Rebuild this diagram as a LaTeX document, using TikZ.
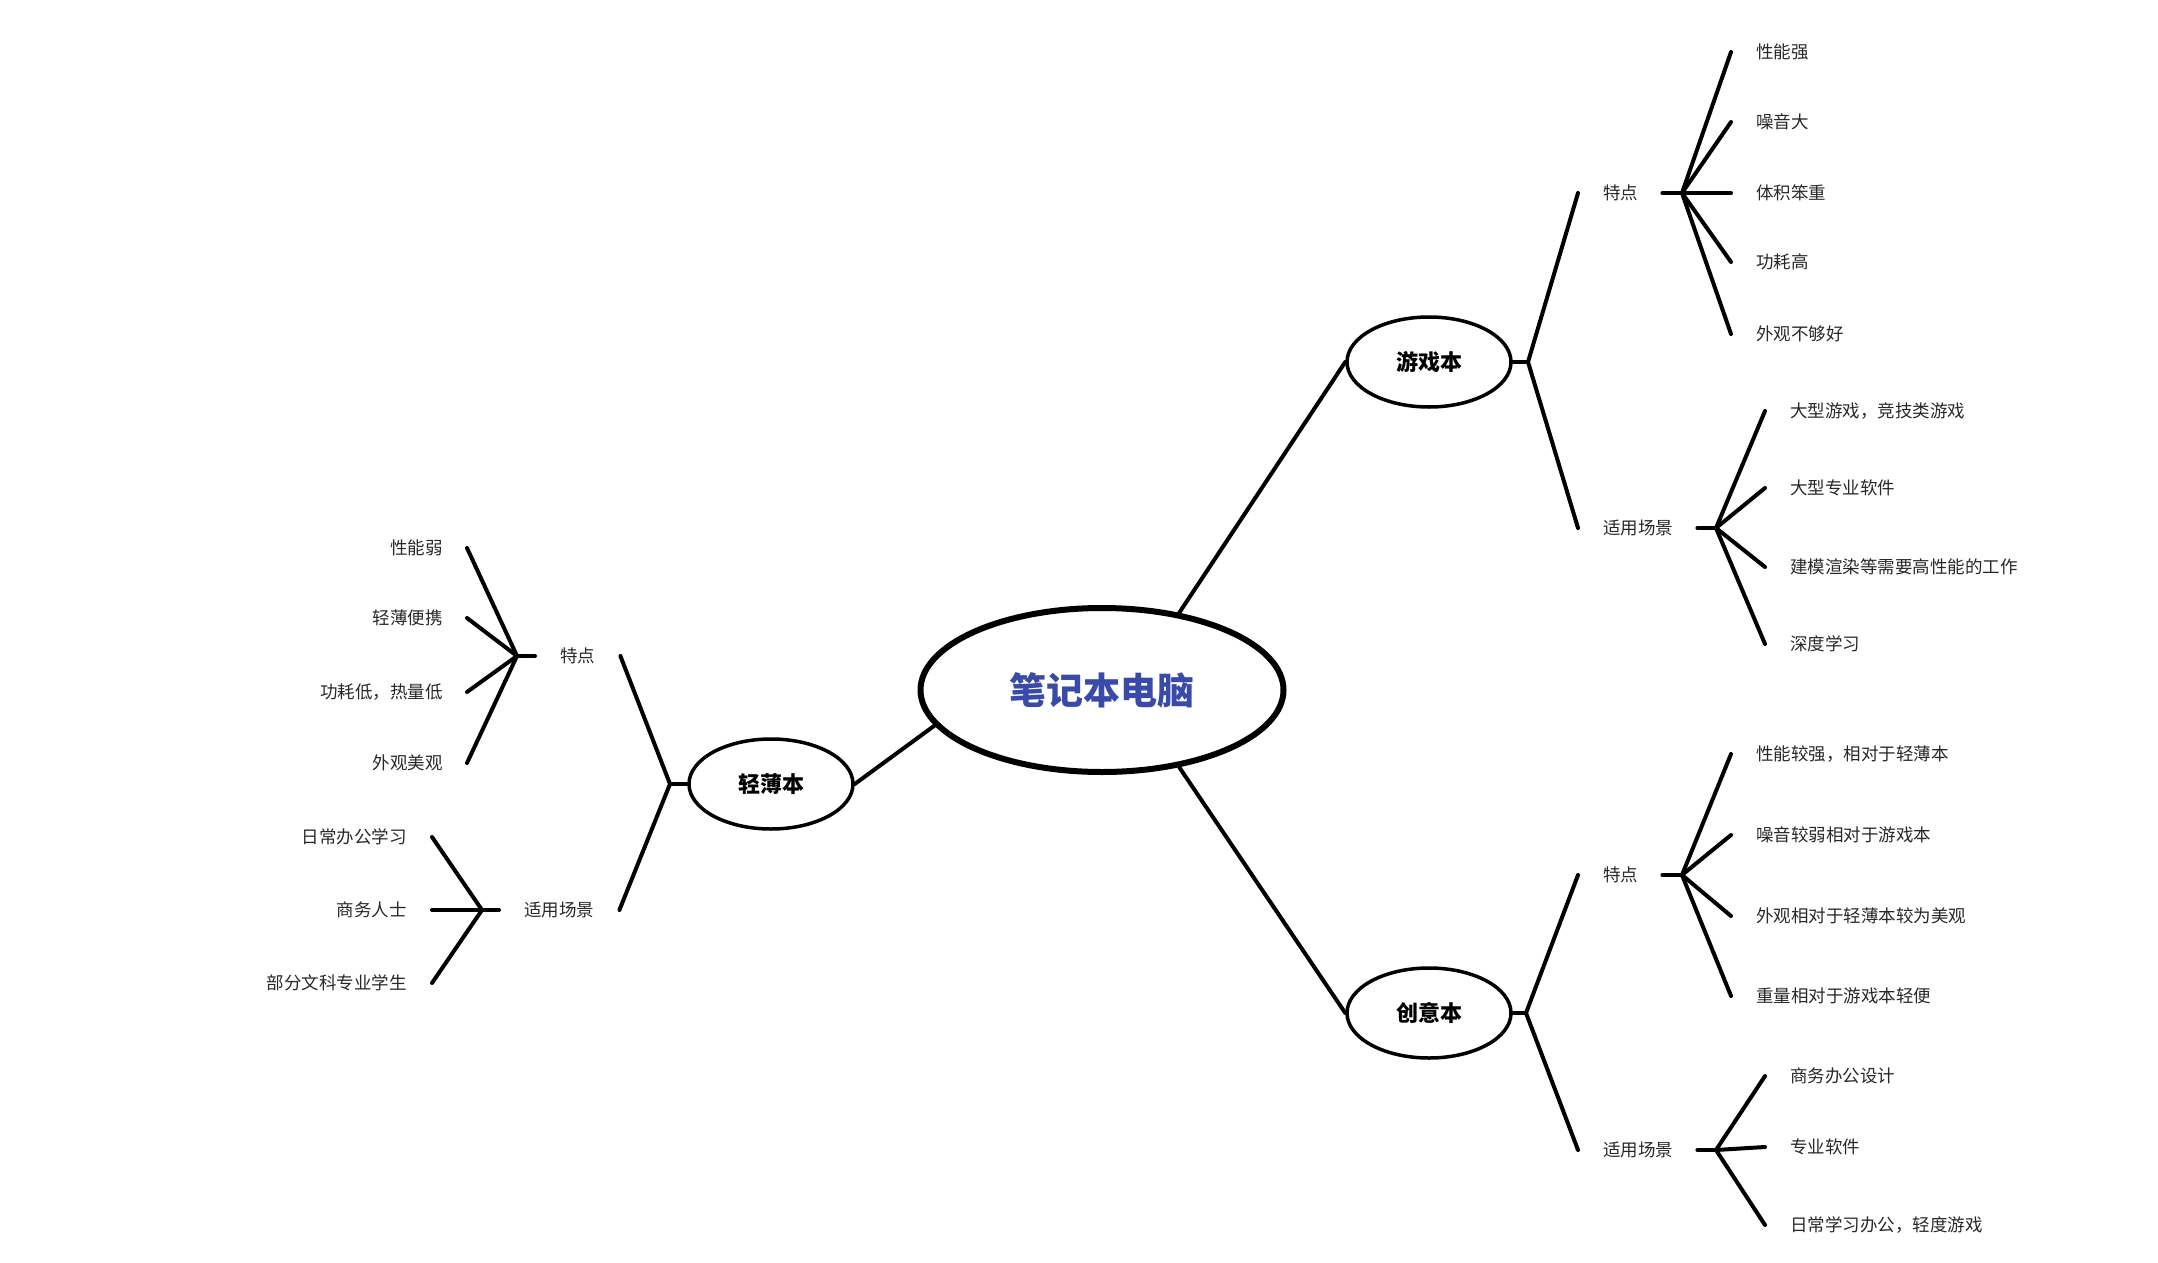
\documentclass[tikz,border=0pt]{standalone}
\usepackage{fontspec}
\setmainfont{Noto Sans CJK SC}
\usetikzlibrary{shapes.geometric}
\definecolor{rootblue}{RGB}{58,74,168}
\definecolor{leafgray}{RGB}{40,40,40}

\begin{document}
\begin{tikzpicture}[x=1pt,y=-1pt,
  root/.style={ellipse,draw,line width=6pt,minimum width=363pt,minimum height=164pt,inner sep=0pt,font=\fontsize{37}{44}\selectfont\bfseries,text=rootblue},
  branch/.style={ellipse,draw,line width=3.5pt,minimum width=164pt,minimum height=90pt,inner sep=0pt,font=\fontsize{22}{26}\selectfont\bfseries},
  leaf/.style={inner sep=0pt,font=\fontsize{17.5}{21}\selectfont,text=leafgray},
  edge/.style={line width=4pt,line cap=round}]
  \useasboundingbox (0,0) rectangle (2158,1263);

  % Root and branches
  \node[root] (pc) at (1102,690) {笔记本电脑};
  \node[branch] (game) at (1429,362) {游戏本};
  \node[branch] (create) at (1429,1013) {创意本};
  \node[branch] (thin) at (771,784) {轻薄本};

  \draw[edge] (pc.45) -- (game.west);
  \draw[edge] (pc.-45) -- (create.west);
  \draw[edge] (pc.192) -- (thin.east);

  % Junctions
  \coordinate (gameJ) at (1528,362);
  \coordinate (createJ) at (1526,1013);
  \coordinate (thinJ) at (670,784);
  \coordinate (gameFJ) at (1682,193);
  \coordinate (gameUJ) at (1716,528);
  \coordinate (createFJ) at (1682,875);
  \coordinate (createUJ) at (1716,1150);
  \coordinate (thinFJ) at (517,656);
  \coordinate (thinUJ) at (482,910);

  % Groups
  \node[leaf,anchor=west] (gameF) at (1603,193) {特点};
  \node[leaf,anchor=west] (gameU) at (1603,528) {适用场景};
  \node[leaf,anchor=west] (createF) at (1603,875) {特点};
  \node[leaf,anchor=west] (createU) at (1603,1150) {适用场景};
  \node[leaf,anchor=west] (thinF) at (560,656) {特点};
  \node[leaf,anchor=west] (thinU) at (524,910) {适用场景};

  \draw[edge] (game.east) -- (gameJ);
  \draw[edge] (gameJ) -- ([xshift=-25pt]gameF.west);
  \draw[edge] (gameJ) -- ([xshift=-25pt]gameU.west);
  \draw[edge] (create.east) -- (createJ);
  \draw[edge] (createJ) -- ([xshift=-25pt]createF.west);
  \draw[edge] (createJ) -- ([xshift=-25pt]createU.west);
  \draw[edge] (thin.west) -- (thinJ);
  \draw[edge] (thinJ) -- ([xshift=25pt]thinF.east);
  \draw[edge] (thinJ) -- ([xshift=25pt]thinU.east);

  \draw[edge] ([xshift=24pt]gameF.east) -- (gameFJ);
  \draw[edge] ([xshift=24pt]gameU.east) -- (gameUJ);
  \draw[edge] ([xshift=24pt]createF.east) -- (createFJ);
  \draw[edge] ([xshift=24pt]createU.east) -- (createUJ);
  \draw[edge] ([xshift=-25pt]thinF.west) -- (thinFJ);
  \draw[edge] ([xshift=-25pt]thinU.west) -- (thinUJ);

  % Game features
  \node[leaf,anchor=west] (gf1) at (1756,52) {性能强};
  \node[leaf,anchor=west] (gf2) at (1756,122) {噪音大};
  \node[leaf,anchor=west] (gf3) at (1756,193) {体积笨重};
  \node[leaf,anchor=west] (gf4) at (1756,262) {功耗高};
  \node[leaf,anchor=west] (gf5) at (1756,334) {外观不够好};
  \draw[edge] (gameFJ) -- ([xshift=-25pt]gf1.west);
  \draw[edge] (gameFJ) -- ([xshift=-25pt]gf2.west);
  \draw[edge] (gameFJ) -- ([xshift=-25pt]gf3.west);
  \draw[edge] (gameFJ) -- ([xshift=-25pt]gf4.west);
  \draw[edge] (gameFJ) -- ([xshift=-25pt]gf5.west);

  % Game uses
  \node[leaf,anchor=west] (gu1) at (1790,411) {大型游戏，竞技类游戏};
  \node[leaf,anchor=west] (gu2) at (1790,488) {大型专业软件};
  \node[leaf,anchor=west] (gu3) at (1790,567) {建模渲染等需要高性能的工作};
  \node[leaf,anchor=west] (gu4) at (1790,644) {深度学习};
  \draw[edge] (gameUJ) -- ([xshift=-25pt]gu1.west);
  \draw[edge] (gameUJ) -- ([xshift=-25pt]gu2.west);
  \draw[edge] (gameUJ) -- ([xshift=-25pt]gu3.west);
  \draw[edge] (gameUJ) -- ([xshift=-25pt]gu4.west);

  % Creative features
  \node[leaf,anchor=west] (cf1) at (1756,754) {性能较强，相对于轻薄本};
  \node[leaf,anchor=west] (cf2) at (1756,835) {噪音较弱相对于游戏本};
  \node[leaf,anchor=west] (cf3) at (1756,916) {外观相对于轻薄本较为美观};
  \node[leaf,anchor=west] (cf4) at (1756,996) {重量相对于游戏本轻便};
  \draw[edge] (createFJ) -- ([xshift=-25pt]cf1.west);
  \draw[edge] (createFJ) -- ([xshift=-25pt]cf2.west);
  \draw[edge] (createFJ) -- ([xshift=-25pt]cf3.west);
  \draw[edge] (createFJ) -- ([xshift=-25pt]cf4.west);

  % Creative uses
  \node[leaf,anchor=west] (cu1) at (1790,1076) {商务办公设计};
  \node[leaf,anchor=west] (cu2) at (1790,1147) {专业软件};
  \node[leaf,anchor=west] (cu3) at (1790,1225) {日常学习办公，轻度游戏};
  \draw[edge] (createUJ) -- ([xshift=-25pt]cu1.west);
  \draw[edge] (createUJ) -- ([xshift=-25pt]cu2.west);
  \draw[edge] (createUJ) -- ([xshift=-25pt]cu3.west);

  % Thin features
  \node[leaf,anchor=east] (tf1) at (443,548) {性能弱};
  \node[leaf,anchor=east] (tf2) at (443,618) {轻薄便携};
  \node[leaf,anchor=east] (tf3) at (443,692) {功耗低，热量低};
  \node[leaf,anchor=east] (tf4) at (443,763) {外观美观};
  \draw[edge] (thinFJ) -- ([xshift=24pt]tf1.east);
  \draw[edge] (thinFJ) -- ([xshift=24pt]tf2.east);
  \draw[edge] (thinFJ) -- ([xshift=24pt]tf3.east);
  \draw[edge] (thinFJ) -- ([xshift=24pt]tf4.east);

  % Thin uses
  \node[leaf,anchor=east] (tu1) at (407,837) {日常办公学习};
  \node[leaf,anchor=east] (tu2) at (407,910) {商务人士};
  \node[leaf,anchor=east] (tu3) at (407,983) {部分文科专业学生};
  \draw[edge] (thinUJ) -- ([xshift=25pt]tu1.east);
  \draw[edge] (thinUJ) -- ([xshift=25pt]tu2.east);
  \draw[edge] (thinUJ) -- ([xshift=25pt]tu3.east);
\end{tikzpicture}
\end{document}
